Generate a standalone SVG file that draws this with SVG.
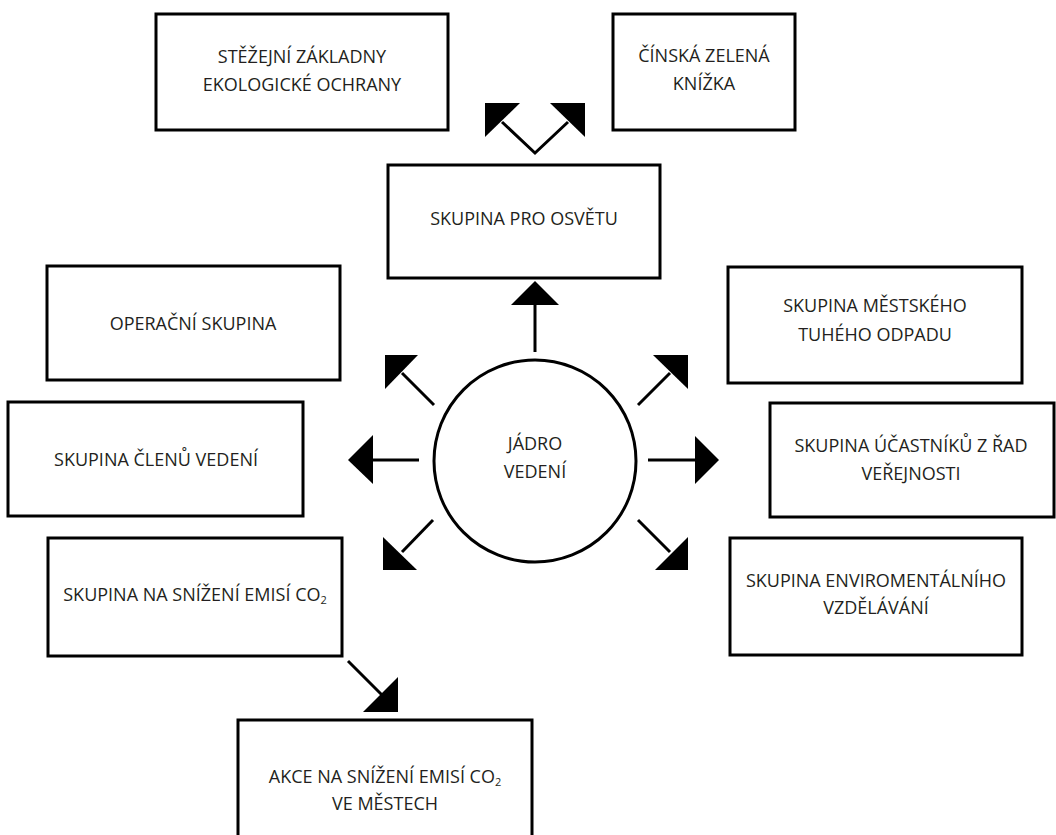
<svg xmlns="http://www.w3.org/2000/svg" width="1056" height="835" viewBox="0 0 1056 835">
<style>
.box{fill:#fff;stroke:#000;stroke-width:3}
.t{font-family:"Open Sans","Liberation Sans",sans-serif;font-size:18px;fill:#231f20;text-anchor:middle}
.sub{font-size:11px}
.ln{stroke:#000;stroke-width:3;fill:none}
.ah{fill:#000}
</style>
<rect width="1056" height="835" fill="#fff"/>
<g id="n-stezejni"><rect class="box" x="156" y="14" width="292" height="116"/><text class="t" x="302" y="63">STĚŽEJNÍ ZÁKLADNY</text><text class="t" x="302" y="91">EKOLOGICKÉ OCHRANY</text></g>
<g id="n-cinska"><rect class="box" x="613" y="14" width="182" height="116"/><text class="t" x="704" y="62">ČÍNSKÁ ZELENÁ</text><text class="t" x="704" y="90">KNÍŽKA</text></g>
<g id="n-osveta"><rect class="box" x="388" y="165" width="272" height="113"/><text class="t" x="524" y="225">SKUPINA PRO OSVĚTU</text></g>
<g id="n-operacni"><rect class="box" x="47" y="266" width="293" height="114"/><text class="t" x="193" y="330">OPERAČNÍ SKUPINA</text></g>
<g id="n-clenu"><rect class="box" x="8" y="402" width="295" height="114"/><text class="t" x="156" y="466">SKUPINA ČLENŮ VEDENÍ</text></g>
<g id="n-snizeni"><rect class="box" x="48" y="538" width="294" height="118"/><text class="t" x="195" y="601">SKUPINA NA SNÍŽENÍ EMISÍ CO<tspan class="sub" dy="3">2</tspan></text></g>
<g id="n-akce"><rect class="box" x="238" y="720" width="294" height="130"/><text class="t" x="385" y="783">AKCE NA SNÍŽENÍ EMISÍ CO<tspan class="sub" dy="3">2</tspan></text><text class="t" x="385" y="810">VE MĚSTECH</text></g>
<g id="n-mestskeho"><rect class="box" x="728" y="267" width="294" height="116"/><text class="t" x="875" y="312">SKUPINA MĚSTSKÉHO</text><text class="t" x="875" y="341">TUHÉHO ODPADU</text></g>
<g id="n-ucastniku"><rect class="box" x="770" y="403" width="284" height="114"/><text class="t" x="911" y="452">SKUPINA ÚČASTNÍKŮ Z ŘAD</text><text class="t" x="911" y="480">VEŘEJNOSTI</text></g>
<g id="n-enviro"><rect class="box" x="730" y="538" width="292" height="117"/><text class="t" x="876" y="587">SKUPINA ENVIROMENTÁLNÍHO</text><text class="t" x="876" y="614">VZDĚLÁVÁNÍ</text></g>
<g id="n-jadro"><circle cx="535" cy="461" r="101" fill="#fff" stroke="#000" stroke-width="3"/><text class="t" x="535" y="450">JÁDRO</text><text class="t" x="535" y="478">VEDENÍ</text></g>
<g id="connectors">
<path class="ln" d="M502,122 L535,153 L568,122"/>
<polygon class="ah" points="485,103 520,103 485,137"/>
<polygon class="ah" points="585,103 550,103 585,137"/>
<line class="ln" x1="535" y1="352" x2="535" y2="303"/>
<polygon class="ah" points="535,281 559,305 511,305"/>
<line class="ln" x1="434" y1="405" x2="402" y2="373"/>
<polygon class="ah" points="385,355 418,355 385,389"/>
<line class="ln" x1="638" y1="405" x2="670" y2="373"/>
<polygon class="ah" points="688,355 653,355 688,389"/>
<line class="ln" x1="419" y1="460" x2="371" y2="460"/>
<polygon class="ah" points="348,460 373,435 373,484"/>
<line class="ln" x1="648" y1="460" x2="697" y2="460"/>
<polygon class="ah" points="719,460 695,436 695,484"/>
<line class="ln" x1="433" y1="520" x2="402" y2="552"/>
<polygon class="ah" points="383,570 383,537 417,570"/>
<line class="ln" x1="638" y1="520" x2="670" y2="552"/>
<polygon class="ah" points="688,570 688,537 655,570"/>
<line class="ln" x1="348" y1="661" x2="382" y2="695"/>
<polygon class="ah" points="398,712 398,677 363,712"/>
</g>
</svg>
